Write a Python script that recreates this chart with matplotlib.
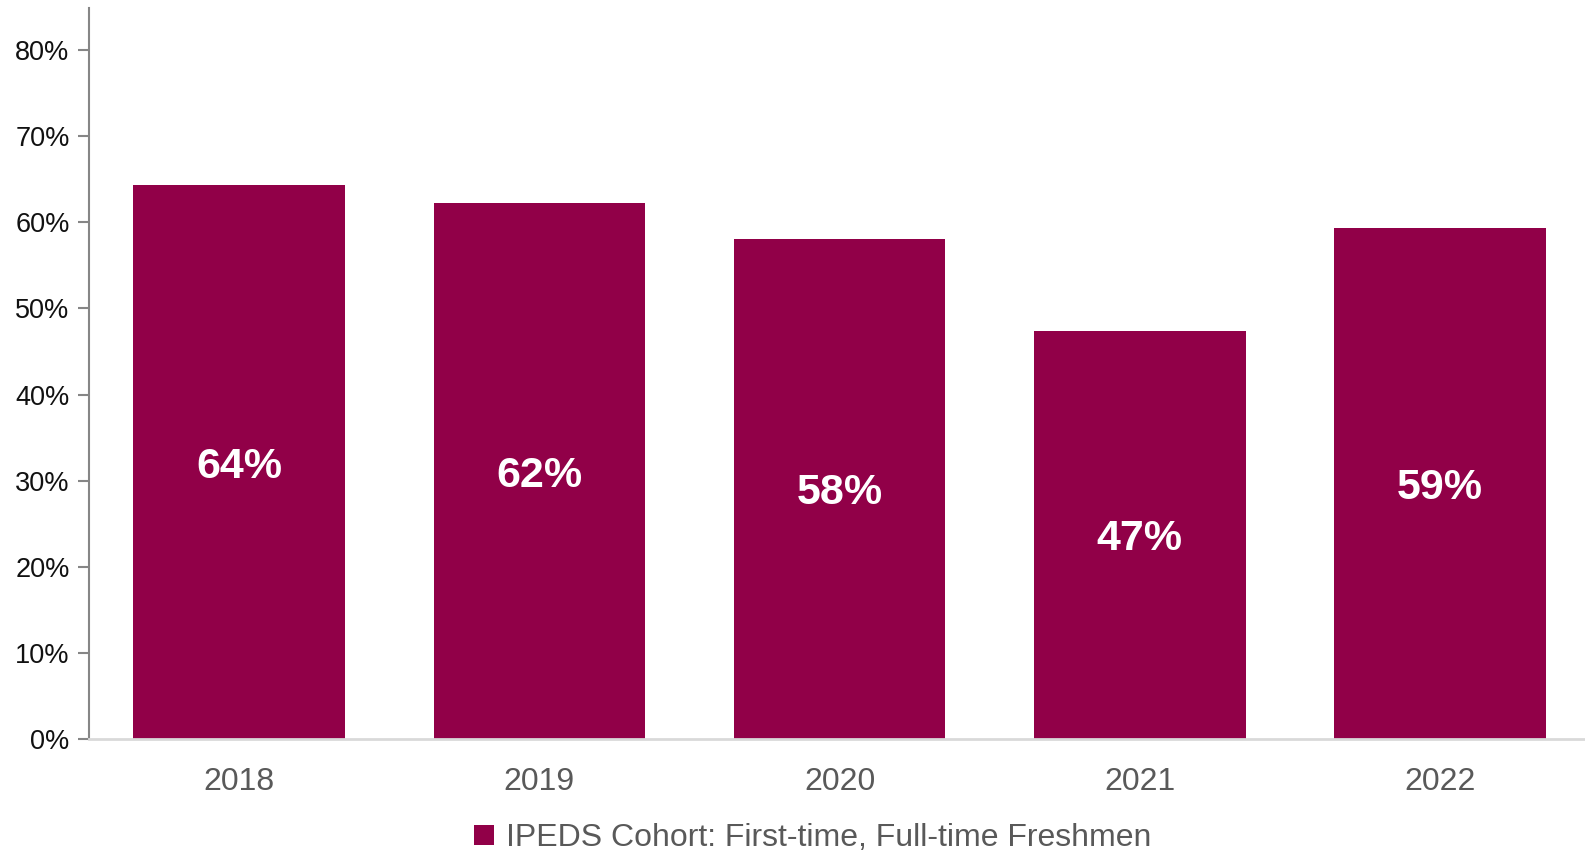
import matplotlib
matplotlib.use('Agg')
import matplotlib.pyplot as plt
from matplotlib.patches import Patch
from matplotlib.ticker import FuncFormatter, MultipleLocator

years = ['2018', '2019', '2020', '2021', '2022']
rates = [64.3, 62.2, 58.1, 47.4, 59.4]
labels = ['64%', '62%', '58%', '47%', '59%']
series_name = 'IPEDS Cohort: First-time, Full-time Freshmen'

bar_color = '#910048'
plt.rcParams['font.family'] = ['Liberation Sans', 'DejaVu Sans']

fig = plt.figure(figsize=(15.85, 8.61), dpi=100)
ax = fig.add_axes([89/1585, 122/861, 1 - 89/1585, (739-8)/861])

x = range(len(years))
bars = ax.bar(x, rates, width=0.705, color=bar_color, zorder=2)
for b, lab in zip(bars, labels):
    ax.text(b.get_x() + b.get_width()/2, b.get_height()/2, lab,
            ha='center', va='center_baseline', color='white', fontsize=31, fontweight='bold')

ax.set_xlim(-0.5, 4.483)
ax.set_ylim(0, 84.9)
ax.yaxis.set_major_locator(MultipleLocator(10))
ax.yaxis.set_major_formatter(FuncFormatter(lambda v, p: '%d%%' % v if v <= 80 else ''))
ax.set_xticks(list(x))
ax.set_xticklabels(years)

for s in ['top', 'right']:
    ax.spines[s].set_visible(False)
ax.spines['left'].set_color('#868686')
ax.spines['left'].set_linewidth(1.5)
ax.spines['bottom'].set_color('#d9d9d9')
ax.spines['bottom'].set_linewidth(2)
ax.tick_params(axis='y', length=8, width=1.5, color='#868686', labelsize=19.5,
               labelcolor='#111111', pad=6)
ax.tick_params(axis='x', length=0, labelsize=23, labelcolor='#595959', pad=20)

handle = Patch(facecolor=bar_color, edgecolor='none')
fig.legend([handle], [series_name], loc='center', bbox_to_anchor=(813/1585, 1 - 838/861),
           frameon=False, fontsize=23, labelcolor='#595959', handlelength=0.6,
           handleheight=0.6, handletextpad=0.4)

fig.savefig('out.png', dpi=100)
